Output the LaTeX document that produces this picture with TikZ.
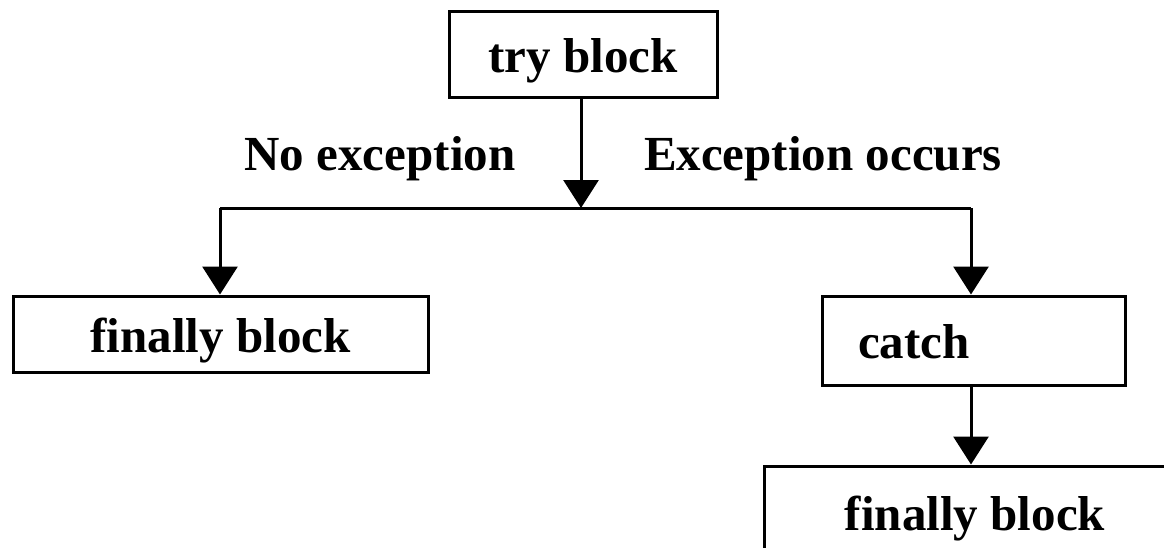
\documentclass[tikz,border=0pt]{standalone}
\usepackage{fontspec}
\setmainfont{Liberation Serif}
\usetikzlibrary{arrows.meta,positioning}
\tikzstyle{box} = [rectangle, draw, line width=3pt, inner ysep=2pt, text height=36pt, text depth=0pt, font=\fontsize{49}{52}\selectfont\bfseries]
\tikzstyle{arrow} = [-{Triangle[width=35pt,length=28pt]}, line width=3pt]
\tikzstyle{branch} = [line width=3pt]
\tikzstyle{lbl} = [anchor=base, font=\fontsize{49}{52}\selectfont\bfseries]

\begin{document}
\begin{tikzpicture}[x=1pt, y=-1pt]
    \useasboundingbox (0,0) rectangle (1164,547);
    \clip (0,0) rectangle (1164,547);

    % Blocks
    \node[box, minimum width=268pt, minimum height=86pt] (try) at (583,54) {try block};
    \node[box, minimum width=415pt, minimum height=76pt] (fin1) at (220.5,334) {finally block};
    \node[box, minimum width=303pt, minimum height=89pt, inner xsep=36pt, text width=231pt, align=left] (catch) at (973.5,340.5) {catch};
    \node[box, minimum width=422pt, minimum height=92pt] (fin2) at (975,512) {finally block};

    % Branch points
    \coordinate (split) at (581,208);
    \coordinate (splitL) at (220,208);
    \coordinate (splitR) at (971,208);

    % Connectors
    \draw[arrow] (try.south -| split) -- (split);
    \draw[branch] (splitL) -- (splitR);
    \draw[arrow] (splitL) -- (fin1.north -| splitL);
    \draw[arrow] (splitR) -- (catch.north -| splitR);
    \draw[arrow] (catch.south -| splitR) -- (fin2.north -| splitR);

    % Labels
    \node[lbl] (noexc) at (380,170) {No exception};
    \node[lbl] (exc) at (823,170) {Exception occurs};
\end{tikzpicture}
\end{document}
